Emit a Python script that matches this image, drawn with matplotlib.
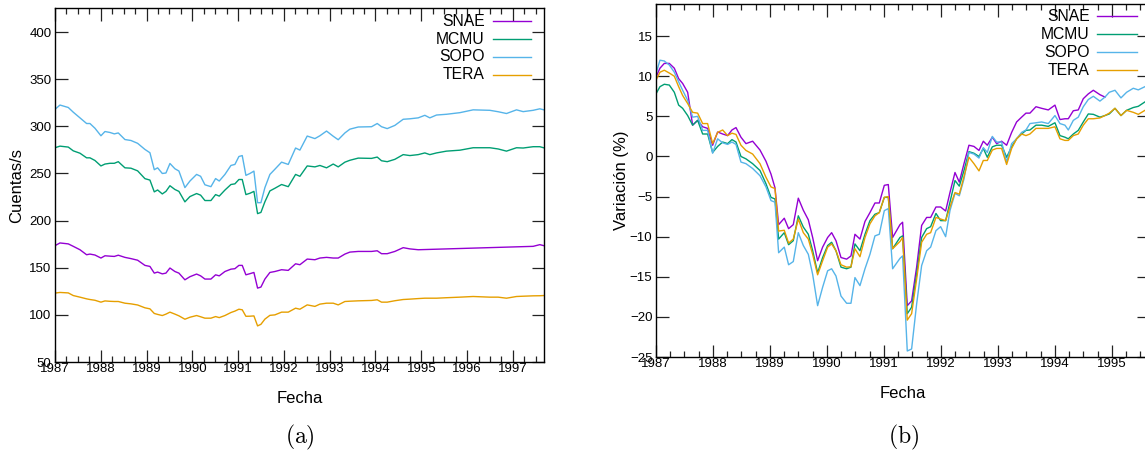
import numpy as np
import matplotlib
matplotlib.use("Agg")
import matplotlib.pyplot as plt
from matplotlib.ticker import MultipleLocator

plt.rcParams['font.family'] = ['Liberation Sans', 'DejaVu Sans']
plt.rcParams['mathtext.fontset'] = 'cm'

# ---- (a) cuentas por segundo ----
t_a = [1987.000, 1987.109, 1987.291, 1987.400, 1987.546, 1987.691, 1987.764, 1987.873,
       1988.004, 1988.092, 1988.201, 1988.296, 1988.383, 1988.528, 1988.659, 1988.805,
       1988.965, 1989.074, 1989.169, 1989.242, 1989.344, 1989.424, 1989.511, 1989.620,
       1989.707, 1989.838, 1989.948, 1990.093, 1990.181, 1990.275, 1990.406, 1990.508,
       1990.588, 1990.712, 1990.843, 1990.930, 1991.017, 1991.090, 1991.170, 1991.258,
       1991.345, 1991.425, 1991.498, 1991.585, 1991.694, 1991.803, 1991.949, 1992.095,
       1992.255,
       1992.349, 1992.509, 1992.677, 1992.786, 1992.931, 1993.077, 1993.186, 1993.332,
       1993.441, 1993.623, 1993.914, 1994.038, 1994.132, 1994.256, 1994.423, 1994.605,
       1994.751, 1994.933, 1995.078, 1995.187, 1995.333, 1995.551, 1995.843, 1996.133,
       1996.498, 1996.679, 1996.861, 1997.080, 1997.225, 1997.443, 1997.589, 1997.670]

snae_a = [173.4, 176.3, 175.3, 172.7, 169.1, 163.8, 164.5, 163.5, 160.3, 162.7,
          162.3, 162, 163.3, 161, 159.7, 158, 152.5, 151.4, 144.3, 145.4,
          143.5, 144.3, 149.7, 146, 144.3, 137.2, 140.5, 143.3, 141.4, 138,
          138, 142.5, 141.4, 146, 148.5, 149, 152.5, 152.5, 142.5, 143.7,
          145, 128.4, 129.5, 138, 145, 146, 147.9, 147.2, 154.2,
          153.2, 159.2, 158.5, 160.3, 161, 160.3, 160.3, 164.5, 166.6, 167.3,
          167.3, 168, 164.9, 164.9, 167.3, 171.3, 170, 169.1,
          np.nan, np.nan, np.nan, np.nan, np.nan, np.nan, np.nan, np.nan, np.nan, np.nan, np.nan,
          172.7, 174.5, 173.5]

mcmu_a = [277.3, 279, 278, 274, 271.5, 266.6, 266.6, 263.8, 258, 260,
          260.8, 260.8, 262.5, 256, 255.6, 252.8, 244.5, 243, 230.5, 232.5,
          228.3, 231, 237, 233, 231, 219.9, 225.5, 228.7, 227, 221.3,
          221.3, 227.6, 226, 232.4, 238.3, 239, 243.6, 243.6, 227.6, 229,
          231, 207.4, 208.7, 220, 231.5, 234.3, 238.3, 236, 249,
          247, 258, 257, 258.5, 256, 260, 257, 262, 264, 266.3,
          266, 267.4, 263.5, 262.5, 265, 270, 269, 270, 271.8, 270,
          271.8, 273.7, 274.7, 277.3, 277.3, 276, 273.7, 277.3, 277, 278.4,
          278.4, 277.3]

sopo_a = [318, 322.6, 320, 315, 309, 303, 303, 298, 290, 294.5,
          293.5, 292, 293, 286, 285, 282, 275.5, 272, 254, 256,
          250, 250.5, 260.6, 255, 252.6, 235, 242, 249, 247, 238,
          236, 244.6, 242, 249, 258.5, 259.6, 268, 269, 248, 250,
          252.5, 219, 219, 235, 249, 254.5, 262, 259.6, 277,
          274.8, 289.7, 287, 290, 295, 289.5, 285.8, 293, 297, 299.3,
          299.6, 303, 299.6, 297.6, 301, 307.5, 308, 309, 311.7, 309,
          312, 312.8, 314.5, 317.5, 317, 315.5, 313.6, 317.5, 315.6, 317,
          318.6, 317.6]

tera_a = [123.1, 123.8, 123.3, 120.5, 118.8, 117, 116.3, 115.5, 113.5, 114.8,
          114.4, 114.2, 114.2, 112.4, 111.7, 110.5, 107.5, 106.4, 101.5, 100.5,
          99.3, 100.8, 102.9, 100.8, 99, 95.4, 97.5, 99.3, 98, 96.5,
          96.5, 98.2, 97.1, 99.3, 102.5, 104, 106, 105.4, 98.5, 98.6,
          98.9, 88.3, 90, 95.5, 99.5, 100, 102.9, 102.9, 107.1,
          106, 110.6, 109, 111.4, 112.4, 112.4, 110.6, 114.2, 114.5, 114.9,
          115.3, 116, 113.5, 113.5, 115, 116.3, 116.7, 117.3, 117.7, 117.7,
          117.7, 118.2, 118.8, 119.5, 118.8, 118.8, 117.7, 119.5, 119.8, 120.2,
          120.3, 120.5]

# ---- (b) variacion porcentual ----
t_b = [1987.000, 1987.070, 1987.146, 1987.234, 1987.322, 1987.398, 1987.468, 1987.556,
       1987.643, 1987.731, 1987.819, 1987.906, 1987.994, 1988.082, 1988.170, 1988.257,
       1988.333, 1988.404, 1988.491, 1988.579, 1988.696, 1988.825, 1988.930, 1989.018,
       1989.088, 1989.152, 1989.251, 1989.327, 1989.409, 1989.497, 1989.585, 1989.673,
       1989.749, 1989.836, 1989.924, 1990.012, 1990.082, 1990.158, 1990.246, 1990.345,
       1990.421, 1990.491, 1990.579, 1990.667, 1990.754, 1990.842, 1990.918, 1991.006,
       1991.076, 1991.152,
       1991.281, 1991.327, 1991.409, 1991.485, 1991.573, 1991.661, 1991.749, 1991.819,
       1991.912, 1991.994, 1992.082, 1992.158, 1992.246, 1992.322, 1992.404, 1992.491,
       1992.579, 1992.667, 1992.743, 1992.813, 1992.901, 1992.977, 1993.064, 1993.152,
       1993.240, 1993.327, 1993.415, 1993.491, 1993.561, 1993.667, 1993.766, 1993.883,
       1994.000, 1994.088, 1994.175, 1994.234, 1994.322, 1994.409, 1994.497, 1994.585,
       1994.673, 1994.789, 1994.877, 1994.953, 1995.053, 1995.158, 1995.257, 1995.374,
       1995.462, 1995.579]

snae_b = [9.9, 11.0, 11.6, 11.6, 11.0, 9.7, 9.1, 8.0, 3.9, 4.5,
          3.7, 3.5, 1.4, 3.05, 2.8, 2.6, 3.3, 3.6, 2.4, 1.6,
          1.9, 0.8, -0.6, -2.2, -3.9, -8.5, -7.7, -9.0, -8.5, -5.2,
          -6.7, -7.9, -10.1, -13.0, -11.3, -10.1, -9.5, -10.5, -12.6, -12.8,
          -12.4, -9.7, -10.3, -8.1, -7.0, -5.8, -5.8, -3.6, -3.5, -10.1,
          -8.5, -8.2, -18.6, -18.0, -13.8, -8.6, -7.6, -7.6, -6.3, -6.3,
          -6.8, -4.5, -2.0, -3.2, -0.9, 1.4, 1.25, 0.75, 1.9, 1.4,
          2.4, 1.6, 1.9, 1.4, 3.0, 4.3, 4.9, 5.4, 5.4, 6.2,
          6.0, 5.8, 6.4, 4.6, 4.7, 4.7, 5.7, 5.8, 7.2, 7.8,
          8.25, 7.7, 7.4, np.nan, np.nan, np.nan, np.nan, np.nan, np.nan, np.nan]

mcmu_b = [7.8, 8.7, 9.0, 8.9, 8.0, 6.4, 6.0, 5.1, 3.9, 4.5,
          2.8, 2.8, 0.5, 1.25, 1.8, 1.6, 2.1, 1.8, 0.0, -0.3,
          -0.9, -1.75, -3.4, -5.1, -5.3, -10.3, -9.5, -11.0, -10.5, -7.4,
          -8.8, -9.7, -11.75, -14.5, -12.6, -11.1, -10.7, -11.75, -13.8, -14.0,
          -13.8, -10.9, -11.75, -9.7, -8.0, -7.2, -7.0, -5.1, -5.1, -11.5,
          -10.1, -9.9, -19.6, -18.8, -14.7, -10.1, -9.0, -8.75, -7.1, -8.0,
          -8.0, -5.7, -3.0, -3.7, -1.75, 0.6, 0.4, 0.0, 1.0, -0.1,
          1.2, 1.4, 1.4, -0.1, 1.2, 2.2, 2.8, 3.25, 3.3, 3.9,
          3.9, 3.75, 4.2, 2.6, 2.4, 2.2, 2.8, 3.25, 4.3, 5.3,
          5.25, 4.9, 5.1, 5.3, 6.0, 5.1, 5.75, 6.1, 6.25, 6.8]

sopo_b = [10.3, 12.0, 11.9, 11.4, 10.5, 9.3, 8.25, 7.0, 4.9, 5.0,
          3.25, 3.25, 0.4, 2.2, 1.7, 1.5, 1.8, 1.5, -0.7, -0.9,
          -1.5, -2.4, -3.8, -5.5, -5.7, -12.0, -11.3, -13.5, -13.1, -9.5,
          -11.1, -12.2, -14.7, -18.6, -16.3, -14.25, -14.0, -14.9, -17.4, -18.3,
          -18.3, -15.1, -16.1, -14.0, -12.2, -9.9, -9.7, -6.75, -6.5, -14.0,
          -12.7, -12.4, -24.25, -24.0, -18.4, -13.6, -11.75, -11.3, -9.25, -8.75,
          -10.0, -6.75, -4.6, -4.9, -2.8, 0.5, 0.3, -0.2, 1.1, 0.5,
          2.5, 1.8, 1.8, -0.7, 1.6, 2.2, 3.0, 3.3, 4.1, 4.2,
          4.3, 4.1, 5.1, 4.1, 3.9, 3.3, 4.5, 4.9, 6.2, 7.1,
          7.5, 6.9, 7.4, 8.0, 8.25, 7.3, 8.0, 8.5, 8.3, 8.7]

tera_b = [9.5, 10.5, 10.75, 10.4, 10.0, 8.7, 7.6, 6.6, 5.5, 5.4,
          4.1, 4.1, 1.6, 3.0, 3.3, 2.6, 2.9, 2.75, 1.4, 0.75,
          0.3, -0.9, -2.6, -3.8, -4.0, -9.3, -9.2, -10.8, -10.3, -7.8,
          -9.5, -10.3, -12.2, -14.75, -13.0, -11.3, -10.9, -11.75, -13.5, -13.8,
          -13.75, -11.5, -12.5, -10.1, -8.4, -7.4, -7.0, -5.1, -5.0, -11.5,
          -10.6, -10.1, -20.4, -19.6, -15.3, -10.7, -9.7, -9.5, -7.6, -7.8,
          -8.0, -6.3, -4.5, -4.7, -2.5, -0.1, -0.9, -1.8, -0.5, -0.5,
          0.8, 1.0, 1.0, -1.0, 1.0, 2.2, 2.8, 2.6, 2.8, 3.5,
          3.5, 3.5, 3.7, 2.2, 2.0, 2.0, 2.6, 2.8, 3.9, 4.7,
          4.7, 4.8, 5.1, 5.4, 6.0, 5.1, 5.75, 5.5, 5.25, 5.75]

names = ['SNAE', 'MCMU', 'SOPO', 'TERA']
colors = ['#9400D3', '#009E73', '#56B4E9', '#E69F00']


def draw(ax, t, v, color):
    t = np.asarray(t)
    v = np.asarray(v, dtype=float)
    ok = ~np.isnan(v)
    return ax.plot(t[ok], v[ok], color=color, lw=1.0)[0]


def style(ax, ystep):
    ax.xaxis.set_major_locator(MultipleLocator(1))
    ax.xaxis.set_minor_locator(MultipleLocator(0.25))
    ax.yaxis.set_major_locator(MultipleLocator(ystep))
    ax.tick_params(which='both', direction='in', top=True, right=True,
                   labelsize=9.5, width=0.9, color='#222222')
    ax.tick_params(which='major', length=9)
    ax.tick_params(which='minor', length=4.5)
    ax.tick_params(axis='x', pad=0.5)
    ax.tick_params(axis='y', pad=2.5)
    for s in ax.spines.values():
        s.set_linewidth(1.0)


def legend(ax, lines, xt, x0, x1, ys):
    for ln, name, y in zip(lines, names, ys):
        ax.text(xt, y, name, transform=ax.transAxes, ha='right', va='center',
                fontsize=11.3)
        ax.plot([x0, x1], [y, y], transform=ax.transAxes, color=ln.get_color(),
                lw=1.0, clip_on=False)


fig = plt.figure(figsize=(11.45, 4.59), dpi=100)

axa = fig.add_axes([0.048, 0.2113, 0.4271, 0.7712])
la = [draw(axa, t_a, v, c) for v, c in zip([snae_a, mcmu_a, sopo_a, tera_a], colors)]
axa.set_xlim(1987, 1997.68)
axa.set_ylim(50, 425.5)
style(axa, 50)
axa.set_xlabel('Fecha', fontsize=12)
axa.set_ylabel('Cuentas/s', fontsize=12)
axa.xaxis.label.set_va('center')
axa.yaxis.label.set_va('center')
axa.xaxis.set_label_coords(0.5, -0.102)
axa.yaxis.set_label_coords(-0.078, 0.5)
legend(axa, la, 0.879, 0.896, 0.973, [0.963, 0.912, 0.862, 0.811])

axb = fig.add_axes([0.5729, 0.2222, 0.4306, 0.769])
lb = [draw(axb, t_b, v, c) for v, c in zip([snae_b, mcmu_b, sopo_b, tera_b], colors)]
axb.set_xlim(1987, 1995.65)
axb.set_ylim(-25, 19)
style(axb, 5)
axb.set_xlabel('Fecha', fontsize=12)
axb.set_ylabel('Variación (%)', fontsize=12)
axb.xaxis.label.set_va('center')
axb.yaxis.label.set_va('center')
axb.xaxis.set_label_coords(0.5, -0.103)
axb.yaxis.set_label_coords(-0.069, 0.5)
legend(axb, lb, 0.880, 0.8945, 0.9757, [0.966, 0.915, 0.864, 0.813])

fig.text(0.262, 0.048, r'$\mathrm{(a)}$', ha='center', va='center', fontsize=17)
fig.text(0.789, 0.048, r'$\mathrm{(b)}$', ha='center', va='center', fontsize=17)

fig.savefig('out.png', dpi=100)
